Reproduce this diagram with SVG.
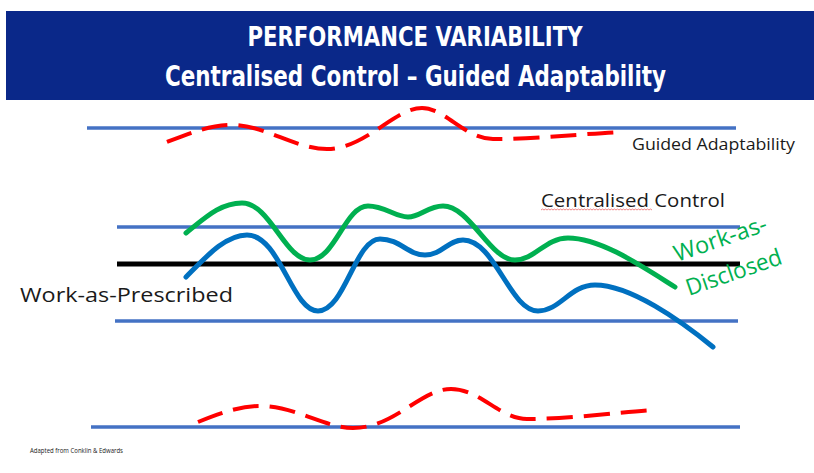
<svg xmlns="http://www.w3.org/2000/svg" width="814" height="473" viewBox="0 0 814 473">
<style>
.ref{stroke:#4472c4;stroke-width:3.5;fill:none}
.wap{stroke:#000;stroke-width:5;fill:none}
.dash{stroke:#ff0000;stroke-width:4;fill:none;stroke-dasharray:26 11;stroke-linecap:butt}
.green{stroke:#00b050;stroke-width:5;fill:none;stroke-linecap:round}
.blue{stroke:#0070c0;stroke-width:5;fill:none;stroke-linecap:round}
.title{font-family:"DejaVu Sans Condensed","DejaVu Sans",sans-serif;font-stretch:condensed;font-weight:bold;fill:#fff;text-anchor:middle}
.lbl{font-family:"Open Sans","Liberation Sans",Arial,sans-serif;fill:#1a1a1a}
.gl{font-family:"Open Sans","Liberation Sans",Arial,sans-serif;fill:#00b050;font-size:23px}
</style>
<rect width="814" height="473" fill="#fff"/>
<g id="header">
<rect x="6" y="11" width="808" height="89" fill="#0a2889"/>
<text class="title" x="415" y="46" font-size="26" textLength="335" lengthAdjust="spacingAndGlyphs">PERFORMANCE VARIABILITY</text>
<text class="title" x="415.5" y="86" font-size="29" textLength="501" lengthAdjust="spacingAndGlyphs">Centralised Control – Guided Adaptability</text>
</g>
<g id="connectors">
<line class="ref" x1="87" y1="128" x2="736" y2="128"/>
<line class="ref" x1="117" y1="227" x2="740" y2="227"/>
<line class="wap" x1="117" y1="264" x2="740" y2="264"/>
<line class="ref" x1="115" y1="321" x2="738" y2="321"/>
<line class="ref" x1="91" y1="427" x2="740" y2="427"/>
</g>
<g id="guided-adaptability-top">
<path class="dash" d="M167,142 C190,133 210,125 232,125 C265,125 295,149 327,149 C365,149 395,108 422,108 C445,108 465,139 493,139 C540,139 590,133 623,132"/>
<text class="lbl" x="632" y="150" font-size="17" textLength="163" lengthAdjust="spacingAndGlyphs">Guided Adaptability</text>
</g>
<g id="work-as-disclosed">
<path class="green" d="M186,233 C205,218 220,203 242,203 C270,203 285,260 310,260 C335,260 345,206 368,206 C385,206 395,217 408,217 C420,217 428,206 443,206 C470,206 490,260 515,260 C535,260 545,238 568,238 C600,238 640,265 675,287"/>
<text class="gl" transform="translate(677,262) rotate(-19)" textLength="97" lengthAdjust="spacingAndGlyphs">Work-as-</text>
<text class="gl" transform="translate(689,296) rotate(-19)" textLength="100" lengthAdjust="spacingAndGlyphs">Disclosed</text>
</g>
<g id="work-as-done">
<path class="blue" d="M186,277 C205,258 225,235 247,235 C280,235 292,311 318,311 C345,311 355,239 380,239 C400,239 408,255 425,255 C442,255 448,240 463,240 C495,240 510,311 538,311 C560,311 570,285 595,285 C630,285 680,320 713,347"/>
</g>
<g id="centralised-control">
<text class="lbl" x="541" y="207" font-size="19" textLength="184" lengthAdjust="spacingAndGlyphs">Centralised Control</text>
<path d="M541,210 l1.5,-1 l1.5,1 l1.5,-1 l1.5,1 l1.5,-1 l1.5,1 l1.5,-1 l1.5,1 l1.5,-1 l1.5,1 l1.5,-1 l1.5,1 l1.5,-1 l1.5,1 l1.5,-1 l1.5,1 l1.5,-1 l1.5,1 l1.5,-1 l1.5,1 l1.5,-1 l1.5,1 l1.5,-1 l1.5,1 l1.5,-1 l1.5,1 l1.5,-1 l1.5,1 l1.5,-1 l1.5,1 l1.5,-1 l1.5,1 l1.5,-1 l1.5,1 l1.5,-1 l1.5,1 l1.5,-1 l1.5,1 l1.5,-1 l1.5,1 l1.5,-1 l1.5,1 l1.5,-1 l1.5,1 l1.5,-1 l1.5,1 l1.5,-1 l1.5,1 l1.5,-1 l1.5,1 l1.5,-1 l1.5,1 l1.5,-1 l1.5,1 l1.5,-1 l1.5,1 l1.5,-1 l1.5,1 l1.5,-1 l1.5,1 l1.5,-1 l1.5,1 l1.5,-1 l1.5,1 l1.5,-1 l1.5,1 l1.5,-1 l1.5,1 l1.5,-1 l1.5,1 l1.5,-1 l1.5,1 l1.5,-1 l1.5,1" stroke="#e86a6a" stroke-width="0.8" fill="none"/>
</g>
<g id="work-as-prescribed">
<text class="lbl" x="20" y="302" font-size="20" textLength="213" lengthAdjust="spacingAndGlyphs">Work-as-Prescribed</text>
</g>
<g id="guided-adaptability-bottom">
<path class="dash" d="M198,422 C220,413 240,406 260,406 C295,406 325,428 353,428 C395,428 420,389 451,389 C480,389 500,419 527,419 C570,419 620,412 655,410"/>
</g>
<g id="credit">
<text class="lbl" x="30" y="453" font-size="7" textLength="93" lengthAdjust="spacingAndGlyphs">Adapted from Conklin &amp; Edwards</text>
</g>
</svg>
